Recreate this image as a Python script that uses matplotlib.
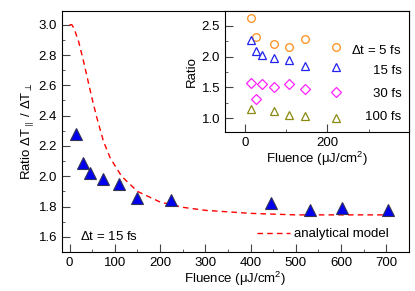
import matplotlib
matplotlib.use('Agg')
import matplotlib.pyplot as plt
from matplotlib.ticker import MultipleLocator

plt.rcParams['font.family'] = ['Liberation Sans', 'DejaVu Sans']
plt.rcParams['mathtext.fontset'] = 'custom'
plt.rcParams['mathtext.rm'] = 'Liberation Sans'
plt.rcParams['mathtext.it'] = 'Liberation Sans:italic'

# main panel: dt = 15 fs
fluence = [15, 30, 45, 73, 109, 148, 224, 446, 532, 602, 704]
ratio = [2.28, 2.09, 2.02, 1.985, 1.95, 1.855, 1.845, 1.825, 1.78, 1.79, 1.775]

model_x = [0, 5, 10, 20, 30, 40, 50, 60, 75, 90, 115, 150, 200, 250, 300, 400, 500, 600, 700]
model_y = [3.0, 3.0, 2.975, 2.89, 2.77, 2.64, 2.51, 2.39, 2.23, 2.12, 2.0, 1.9, 1.83,
           1.795, 1.775, 1.755, 1.745, 1.745, 1.745]

# inset
ins_x = [14, 28, 43, 70, 107, 147, 221]
r5_x = [14, 28, 70, 107, 147, 221]
r5 = [2.625, 2.315, 2.21, 2.155, 2.29, 2.155]
r15 = [2.27, 2.09, 2.02, 1.98, 1.94, 1.85, 1.83]
r30 = [1.58, 1.31, 1.55, 1.50, 1.55, 1.47, 1.43]
r100_x = [14, 70, 107, 147, 221]
r100 = [1.15, 1.12, 1.05, 1.04, 1.01]
ins_labels = ['$\\Delta$t = 5 fs', '15 fs', '30 fs', '100 fs']

fig = plt.figure(figsize=(4.15, 2.91), dpi=100)
ax = fig.add_axes([0.149, 0.134, 0.8365, 0.828])

ax.plot(model_x, model_y, color='red', lw=1.0, ls=(0, (4, 3)), label='analytical model')
ax.plot(fluence, ratio, ls='none', marker='^', ms=8.5, mfc='#0000ee', mec='#333355', mew=0.8)

ax.set_xlim(-17, 750)
ax.set_ylim(1.5, 3.09)
ax.xaxis.set_major_locator(MultipleLocator(100))
ax.xaxis.set_minor_locator(MultipleLocator(50))
ax.yaxis.set_major_locator(MultipleLocator(0.2))
ax.yaxis.set_minor_locator(MultipleLocator(0.1))
ax.tick_params(which='both', direction='in', labelsize=9.5, color='#444444')
ax.tick_params(which='major', length=6)
ax.tick_params(which='minor', length=2.5)
ax.set_xlabel('Fluence (\u03bcJ/cm$^2$)', fontsize=9.5, labelpad=1)
ax.set_ylabel('Ratio $\\Delta$T$_{\\parallel}$ / $\\Delta$T$_{\\perp}$', fontsize=9.5, labelpad=2)
ax.text(0.052, 0.065, '$\\Delta$t = 15 fs', transform=ax.transAxes, fontsize=9.5, va='center')
ax.legend(loc='lower right', frameon=False, fontsize=9.5, handlelength=2.5,
          handletextpad=0.25, borderaxespad=0.5, bbox_to_anchor=(0.975, 0.0))

ins = fig.add_axes([0.542, 0.547, 0.4435, 0.415])
ins.plot(r5_x, r5, ls='none', marker='o', ms=5.5, mfc='none', mec='#ff8c1a', mew=0.9)
ins.plot(ins_x, r15, ls='none', marker='^', ms=6, mfc='none', mec='#2222ee', mew=0.9)
ins.plot(ins_x, r30, ls='none', marker='D', ms=5, mfc='none', mec='#ff22ff', mew=0.9)
ins.plot(r100_x, r100, ls='none', marker='^', ms=6, mfc='none', mec='#8a8a10', mew=0.9)
ins.set_xlim(-48, 398)
ins.set_ylim(0.78, 2.74)
ins.xaxis.set_major_locator(MultipleLocator(200))
ins.xaxis.set_minor_locator(MultipleLocator(100))
ins.yaxis.set_major_locator(MultipleLocator(0.5))
ins.yaxis.set_minor_locator(MultipleLocator(0.25))
ins.tick_params(which='both', direction='in', labelsize=9.5, color='#444444')
ins.tick_params(which='major', length=6)
ins.tick_params(which='minor', length=2.5)
ins.set_xlabel('Fluence (\u03bcJ/cm$^2$)', fontsize=9.5, labelpad=1)
ins.set_ylabel('Ratio', fontsize=9.5, labelpad=3)
for lab, yy in zip(ins_labels, [0.67, 0.5, 0.31, 0.125]):
    ins.text(0.96, yy, lab, transform=ins.transAxes, ha='right', va='center', fontsize=9.5)

fig.savefig('out.png', dpi=100)
